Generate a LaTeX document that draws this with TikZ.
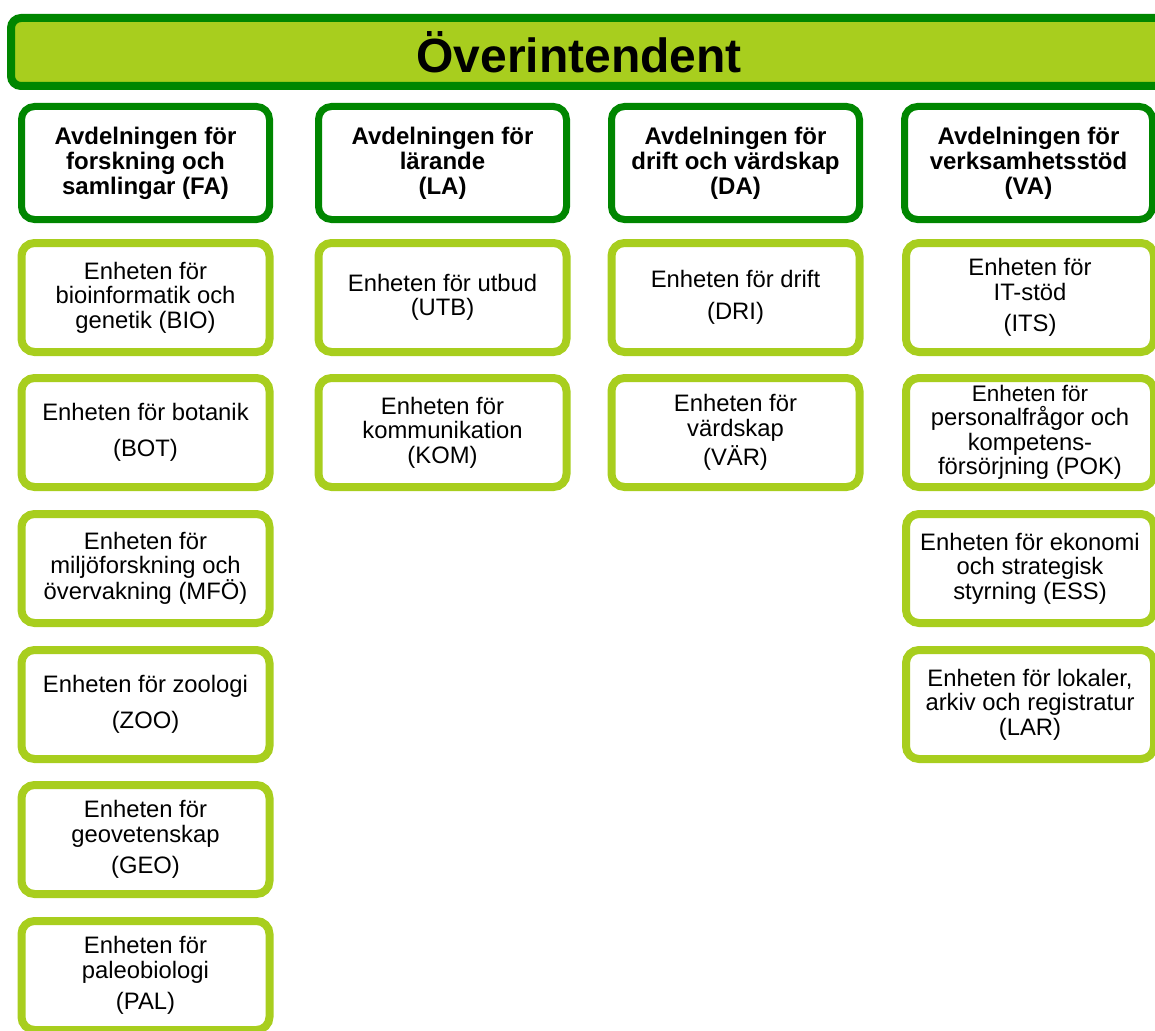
\documentclass[tikz,border=0pt]{standalone}
\usepackage{fontspec}
\setmainfont{Liberation Sans}
\usetikzlibrary{shadows}
\definecolor{lgreen}{RGB}{168,206,30}
\definecolor{dgreen}{RGB}{0,134,0}
\tikzset{
  shade/.style={drop shadow={shadow xshift=1.5pt,shadow yshift=-3pt,opacity=0.25,fill=black}},
  banner/.style={draw=dgreen,fill=lgreen,line width=8pt,rounded corners=10pt,minimum width=1159pt,minimum height=68pt,inner sep=0pt,shade},
  dept/.style={draw=dgreen,fill=white,line width=7pt,rounded corners=13pt,minimum width=248pt,minimum height=113pt,align=center,inner sep=0pt,font=\bfseries\fontsize{24}{25}\selectfont,shade},
  unit/.style={draw=lgreen,fill=white,line width=8pt,rounded corners=13pt,minimum width=248pt,minimum height=109pt,align=center,inner sep=0pt,font=\fontsize{23.8}{24.5}\selectfont,shade},
  ttl/.style={font=\bfseries\fontsize{48}{50}\selectfont,inner sep=0pt}
}
\begin{document}
\begin{tikzpicture}[x=1pt,y=-1pt]
\useasboundingbox (0,0) rectangle (1155,1030);
\clip (0,0) rectangle (1155,1030);
% banner
\node[banner] (top) at (590.5,52) {};
\node[ttl] (title) at (579,52) {Överintendent};
% departments
\node[dept] (fa) at (145.5,163) {Avdelningen för\\forskning och\\samlingar (FA)};
\node[dept] (la) at (442.5,163) {Avdelningen för\\lärande\\(LA)};
\node[dept] (da) at (735.5,163) {Avdelningen för\\drift och värdskap\\(DA)};
\node[dept] (va) at (1028.5,163) {Avdelningen för\\verksamhetsstöd\\(VA)};
% FA units
\node[unit] (bio) at (145.5,297.5) {Enheten för\\bioinformatik och\\genetik (BIO)};
\node[unit] (bot) at (145.5,432.5) {Enheten för botanik\\[11pt](BOT)};
\node[unit] (mfo) at (145.5,568.5) {Enheten för\\miljöforskning och\\övervakning (MFÖ)};
\node[unit] (zoo) at (145.5,704.5) {Enheten för zoologi\\[11pt](ZOO)};
\node[unit] (geo) at (145.5,839.5) {Enheten för\\geovetenskap\\[7pt](GEO)};
\node[unit] (pal) at (145.5,975.5) {Enheten för\\paleobiologi\\[7pt](PAL)};
% LA units
\node[unit] (utb) at (442.5,297.5) {Enheten för utbud\\(UTB)};
\node[unit] (kom) at (442.5,432.5) {Enheten för\\kommunikation\\(KOM)};
% DA units
\node[unit] (dri) at (735.5,297.5) {Enheten för drift\\[7pt](DRI)};
\node[unit] (var) at (735.5,432.5) {Enheten för\\värdskap\\[3pt](VÄR)};
% VA units
\node[unit] (its) at (1030,297.5) {Enheten för\\IT-stöd\\[7pt](ITS)};
\node[unit] (pok) at (1030,432.5) {\fontsize{22.5}{23}\selectfont Enheten för\\personalfrågor och\\kompetens-\\försörjning (POK)};
\node[unit] (ess) at (1030,568.5) {Enheten för ekonomi\\och strategisk\\styrning (ESS)};
\node[unit] (lar) at (1030,704.5) {Enheten för lokaler,\\arkiv och registratur\\(LAR)};
\end{tikzpicture}
\end{document}
